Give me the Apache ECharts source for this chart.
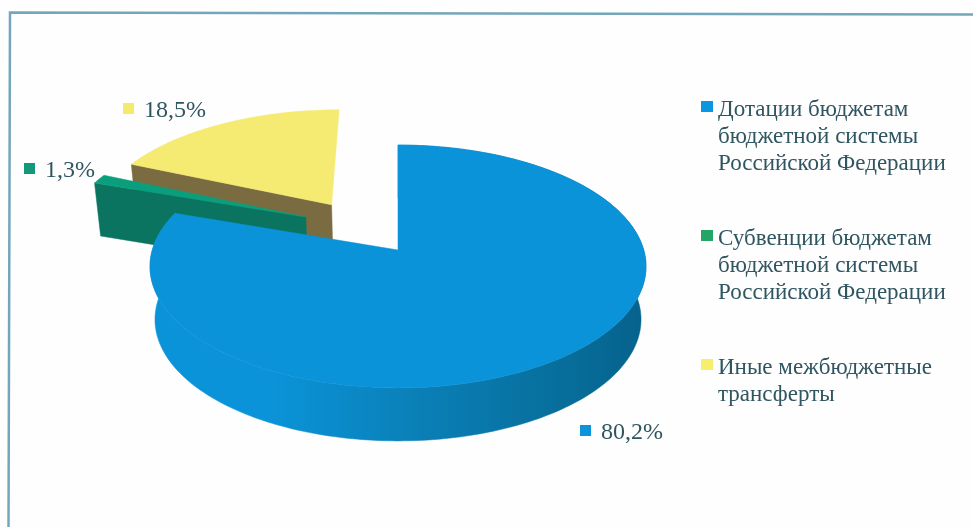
<!DOCTYPE html>
<html><head><meta charset="utf-8">
<style>html,body{margin:0;padding:0;background:#fefefe}#c{width:973px;height:527px}</style>
<script src="https://cdn.jsdelivr.net/npm/echarts@6/dist/echarts.min.js"></script>
</head><body><div id="c"></div>
<script>
var categories = ['Дотации бюджетам\nбюджетной системы\nРоссийской Федерации',
                  'Субвенции бюджетам\nбюджетной системы\nРоссийской Федерации',
                  'Иные межбюджетные\nтрансферты\n'];
var shares = [80.2, 1.3, 18.5];

var topColors = ['#0a93d8', '#0a9f7c', '#f5ea72'];
var legendColors = ['#0b96e0', '#22a566', '#f7ee6e'];
var markerColors = ['#0b93dc', '#13987a', '#f6ea6c'];
var wallColors = [{type:'linear',x:150,y:0,x2:645,y2:0,global:true,colorStops:[
    {offset:0,color:'#0a93d8'},{offset:.25,color:'#0a93d8'},{offset:.55,color:'#0a7fb6'},
    {offset:.85,color:'#076d9a'},{offset:1,color:'#06628c'}]}, '#0b7460', '#7a6b40'];
var explode = [[0,0],[-.39,.288],[-.285,.40]];
var labelPos = [[580,425],[24,163],[123,103]];

// perspective of the pie plane
var CX=398, CY=250, A=119.2, B=245.7, K=.1357, DEPTH=53, SHRINK=.98;
function project(u,v){var s=1/(1+K*v);return [CX+B*u*s, CY-A*v*s];}
function drop(p){return [CX+(p[0]-CX)*SHRINK, p[1]+DEPTH];}

function renderSlice(i){
  return function(params, api){
    var val = api.value(0), start = 0;
    for (var j=0;j<i;j++) start += shares[j];
    var a0 = start/100*2*Math.PI, a1 = (start+val)/100*2*Math.PI;
    var off = explode[i], arc = [], n = Math.max(6, Math.ceil((a1-a0)*40));
    for (var t=0;t<=n;t++){
      var a = a0+(a1-a0)*t/n;
      arc.push(project(Math.sin(a)+off[0], Math.cos(a)+off[1]));
    }
    var c = project(off[0],off[1]);
    var arcLow = arc.map(drop);
    var wall = wallColors[i];
    function poly(points,fill){return {type:'polygon',shape:{points:points},style:{fill:fill,stroke:fill,lineWidth:.5}};}
    var lp = labelPos[i];
    // the big slice shows its outer rim, the pulled-out slices only their front cut
    var front = i === 0 ? arc.concat(arcLow.slice().reverse()) : [c,arc[0],arcLow[0],drop(c)];
    return {type:'group',children:[
      poly(front,wall),
      poly([c].concat(arc),topColors[i]),
      {type:'rect',shape:{x:lp[0],y:lp[1],width:11,height:11},style:{fill:markerColors[i]}},
      {type:'text',x:lp[0]+21,y:lp[1]+8,style:{
        text:val.toFixed(1).replace('.',',')+'%',
        font:'24px "Liberation Serif"',fill:'#2f5560',verticalAlign:'middle',align:'left'}}
    ]};
  };
}

var chart = echarts.init(document.getElementById('c'),null,{renderer:'canvas'});
chart.setOption({
  animation:false,
  backgroundColor:'#fefefe',
  color:legendColors,
  graphic:[{type:'polyline',shape:{points:[[8.5,527],[10,12.5],[973,14.5]]},
    style:{fill:'none',stroke:'#74a6bb',lineWidth:2.5},silent:true}],
  legend:{
    orient:'vertical',left:696,top:91,itemWidth:12,itemHeight:81,itemGap:48,
    symbolKeepAspect:false,selectedMode:false,
    icon:'path://M0 0h.01v.01h-.01z M0 5H12V16H0Z M0 81h.01v.01h-.01z',
    textStyle:{fontFamily:'Liberation Serif',fontSize:23,color:'#2f5560',lineHeight:27},
    data:categories
  },
  series:categories.map(function(name,i){
    return {type:'custom',name:name,coordinateSystem:'none',z:5-i,silent:true,
      itemStyle:{color:legendColors[i]},
      renderItem:renderSlice(i),data:[[shares[i]]]};
  })
});
</script></body></html>
